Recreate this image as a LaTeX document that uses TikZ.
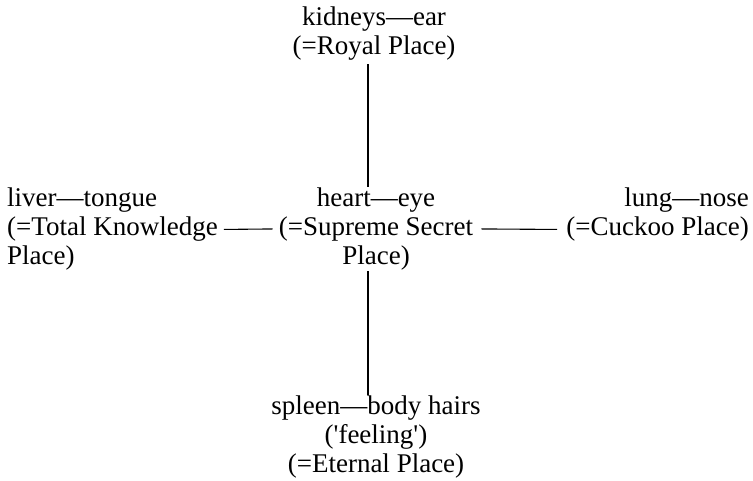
\documentclass[tikz,border=0pt]{standalone}
\usepackage{fontspec}
\setmainfont{Liberation Serif}
\newfontfamily\plainserif{Liberation Serif}
\begin{document}
\begin{tikzpicture}[x=1pt,y=-1pt,
  every node/.style={inner sep=0pt, font=\fontsize{27}{29}\selectfont},
  link/.style={line width=1.1pt, draw=black}]
\useasboundingbox[fill=white] (0,0) rectangle (753,480);
\coordinate (vx) at (368,0);
\node[anchor=north, align=center] (kid) at (374,6.5) {kidneys—ear\\(=Royal Place)};
\node[anchor=north, align=center] (heart) at (376,187.5) {heart—eye\\(=Supreme Secret\\Place)};
\node[anchor=north west, align=left] (liv) at (7,188) {liver—tongue\\(=Total Knowledge\\Place)};
\node[anchor=north east, align=right] (lung) at (749,188) {lung—nose\\(=Cuckoo Place)\\\phantom{Place)}};
\node[anchor=north, align=center] (spl) at (376,396) {spleen—body hairs\\({\plainserif'}feeling{\plainserif'})\\(=Eternal Place)};
\draw[link] ([yshift=-4pt]kid.south -| vx) -- ([yshift=1pt]heart.north -| vx);
\draw[link] ([yshift=-1pt]heart.south -| vx) -- ([yshift=1pt]spl.north -| vx);
\draw[link] ([xshift=6pt]liv.east) -- ([xshift=-6pt]heart.west);
\draw[link] ([xshift=8pt]heart.east) -- ([xshift=-9pt]lung.west);
\end{tikzpicture}
\end{document}
